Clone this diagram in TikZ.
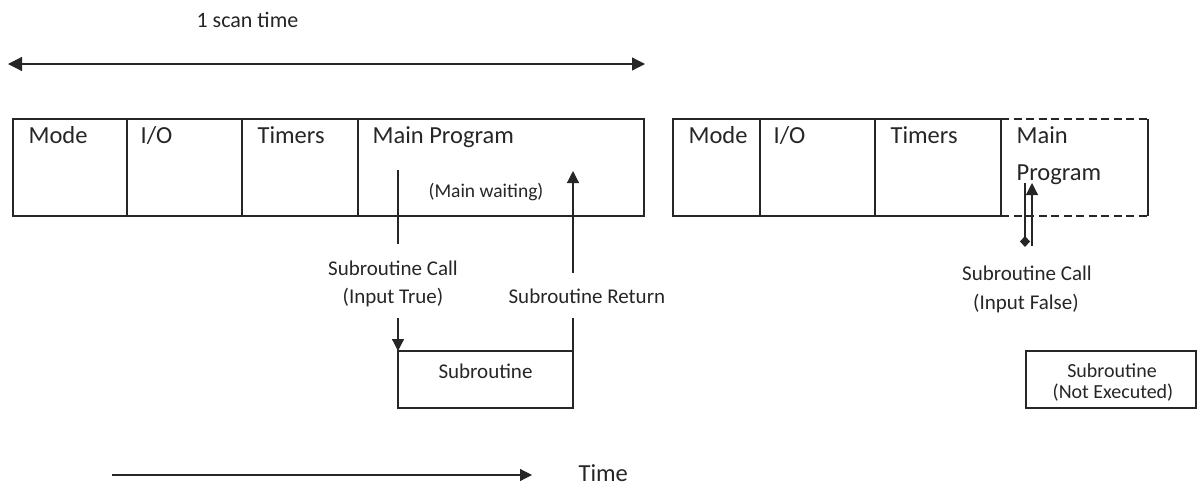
\documentclass[tikz,border=0pt]{standalone}
\usepackage{fontspec}
\setmainfont{Carlito}
\usetikzlibrary{arrows.meta}
\begin{document}
\begin{tikzpicture}[x=1pt,y=-1pt,
  line width=1.2pt,
  cell/.style={draw=black!85, line width=1.2pt, rectangle, anchor=north west, inner sep=0pt, outer sep=0pt, minimum height=97pt},
  bigtxt/.style={font=\fontsize{24.5}{28}\selectfont, inner sep=0pt, anchor=base west, text=black!85},
  midtxt/.style={font=\fontsize{21}{24}\selectfont, inner sep=0pt, anchor=base, text=black!85},
  smalltxt/.style={font=\fontsize{19.5}{22}\selectfont, inner sep=0pt, anchor=base, text=black!85},
  tip/.style={-{Triangle[length=12pt,width=12pt]}},
  conn/.style={draw=black!85, line width=1.2pt}
]
\useasboundingbox (0,0) rectangle (1197,485);

% top scan-time arrow
\node[font=\fontsize{22}{26}\selectfont, inner sep=0pt, anchor=base west, text=black!85] (scan) at (196,27) {1 scan time};
\coordinate (sL) at (8,64);
\coordinate (sR) at (645,64);
\draw[conn, {Triangle[length=14pt,width=14pt]}-{Triangle[length=13pt,width=13pt]}] (sL) -- (sR);

% first scan block
\node[cell, minimum width=114pt] (mode1) at (13,119) {};
\node[cell, minimum width=115pt] (io1) at (127,119) {};
\node[cell, minimum width=116pt] (tim1) at (242,119) {};
\node[cell, minimum width=286pt] (main1) at (358,119) {};
\node[bigtxt] (tmode1) at (28,143) {Mode};
\node[bigtxt] (tio1) at (140,143) {I/O};
\node[bigtxt] (ttim1) at (257,143) {Timers};
\node[bigtxt] (tmain1) at (372,143) {Main Program};
\node[smalltxt] (wait) at (486,197) {(Main waiting)};

% subroutine box
\node[cell, minimum width=175pt, minimum height=57pt] (sub1) at (398,351) {};
\node[midtxt] (tsub1) at (sub1.center |- 0,378) {Subroutine};

% call
\node[midtxt] (call1) at (393,275) {Subroutine Call};
\node[midtxt] (call1b) at (393,303) {(Input True)};
\coordinate (c1a) at (398,170);
\coordinate (c1b) at (398,244);
\coordinate (c1c) at (398,318);
\draw[conn] (c1a) -- (c1b);
\draw[conn, tip] (c1c) -- (sub1.north west);

% return
\node[midtxt, anchor=base west] (ret1) at (508,303) {Subroutine Return};
\coordinate (r1a) at (573,318);
\coordinate (r1b) at (573,273);
\coordinate (r1c) at (573,171);
\draw[conn] (sub1.north east) -- (r1a);
\draw[conn, tip] (r1b) -- (r1c);

% second scan block
\node[cell, minimum width=87pt] (mode2) at (673,119) {};
\node[cell, minimum width=115pt] (io2) at (760,119) {};
\node[cell, minimum width=126pt] (tim2) at (875,119) {};
\node[cell, draw=none, minimum width=147pt] (main2) at (1001,119) {};
\draw[conn, dash pattern=on 8pt off 4.5pt] (main2.north west) -- (main2.north east);
\draw[conn, dash pattern=on 8pt off 4.5pt] (main2.south west) -- (main2.south east);
\draw[conn] (main2.north east) -- (main2.south east);
\node[bigtxt] (tmode2) at (688,143) {Mode};
\node[bigtxt] (tio2) at (773,143) {I/O};
\node[bigtxt] (ttim2) at (890,143) {Timers};
\node[bigtxt] (tmain2a) at (1016,143) {Main};
\node[bigtxt] (tmain2b) at (1016,180) {Program};

% call not taken
\coordinate (c2a) at (1025,183);
\coordinate (c2b) at (1025,247);
\coordinate (c2c) at (1032,246);
\coordinate (c2d) at (1032,183);
\draw[conn, -{Diamond[length=11pt,width=10pt]}] (c2a) -- (c2b);
\draw[conn, tip] (c2c) -- (c2d);
\node[midtxt] (call2) at (1027,280) {Subroutine Call};
\node[midtxt] (call2b) at (1026,309) {(Input False)};

% subroutine not executed
\node[cell, minimum width=170pt, minimum height=57pt] (sub2) at (1026,351) {};
\node[smalltxt, font=\fontsize{20}{22}\selectfont] (tsub2) at (1112,377) {Subroutine};
\node[smalltxt, font=\fontsize{20}{22}\selectfont] (tsub2b) at (1113,398) {(Not Executed)};

% time arrow
\coordinate (t1) at (112,475);
\coordinate (t2) at (532,475);
\draw[conn, tip] (t1) -- (t2);
\node[bigtxt] (time) at (578,481) {Time};
\end{tikzpicture}
\end{document}
